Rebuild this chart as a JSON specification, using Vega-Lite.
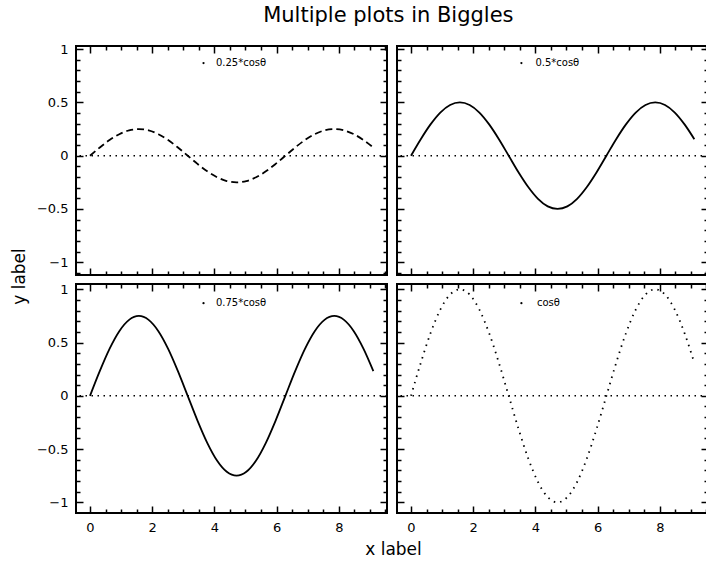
{
  "$schema": "https://vega.github.io/schema/vega-lite/v6.json",
  "background": "white",
  "padding": {"left": 9, "top": 5, "right": 0, "bottom": 5},
  "title": {"text": "Multiple plots in Biggles", "font": "DejaVu Sans", "fontSize": 21, "fontWeight": "normal", "color": "black", "anchor": "middle", "offset": 16, "dx": 29},
  "data": {"values": [
    {"x": 0, "a": 0, "b": 0, "c": 0, "d": 0},
    {"x": 0.314, "a": 0.077, "b": 0.155, "c": 0.232, "d": 0.309},
    {"x": 0.628, "a": 0.147, "b": 0.294, "c": 0.441, "d": 0.588},
    {"x": 0.942, "a": 0.202, "b": 0.405, "c": 0.607, "d": 0.809},
    {"x": 1.257, "a": 0.238, "b": 0.476, "c": 0.713, "d": 0.951},
    {"x": 1.571, "a": 0.25, "b": 0.5, "c": 0.75, "d": 1},
    {"x": 1.885, "a": 0.238, "b": 0.476, "c": 0.713, "d": 0.951},
    {"x": 2.199, "a": 0.202, "b": 0.405, "c": 0.607, "d": 0.809},
    {"x": 2.513, "a": 0.147, "b": 0.294, "c": 0.441, "d": 0.588},
    {"x": 2.827, "a": 0.077, "b": 0.155, "c": 0.232, "d": 0.309},
    {"x": 3.142, "a": 0, "b": 0, "c": 0, "d": 0},
    {"x": 3.456, "a": -0.077, "b": -0.155, "c": -0.232, "d": -0.309},
    {"x": 3.770, "a": -0.147, "b": -0.294, "c": -0.441, "d": -0.588},
    {"x": 4.084, "a": -0.202, "b": -0.405, "c": -0.607, "d": -0.809},
    {"x": 4.398, "a": -0.238, "b": -0.476, "c": -0.713, "d": -0.951},
    {"x": 4.712, "a": -0.25, "b": -0.5, "c": -0.75, "d": -1},
    {"x": 5.027, "a": -0.238, "b": -0.476, "c": -0.713, "d": -0.951},
    {"x": 5.341, "a": -0.202, "b": -0.405, "c": -0.607, "d": -0.809},
    {"x": 5.655, "a": -0.147, "b": -0.294, "c": -0.441, "d": -0.588},
    {"x": 5.969, "a": -0.077, "b": -0.155, "c": -0.232, "d": -0.309},
    {"x": 6.283, "a": 0, "b": 0, "c": 0, "d": 0},
    {"x": 6.597, "a": 0.077, "b": 0.155, "c": 0.232, "d": 0.309},
    {"x": 6.912, "a": 0.147, "b": 0.294, "c": 0.441, "d": 0.588},
    {"x": 7.226, "a": 0.202, "b": 0.405, "c": 0.607, "d": 0.809},
    {"x": 7.540, "a": 0.238, "b": 0.476, "c": 0.713, "d": 0.951},
    {"x": 7.854, "a": 0.25, "b": 0.5, "c": 0.75, "d": 1},
    {"x": 8.168, "a": 0.238, "b": 0.476, "c": 0.713, "d": 0.951},
    {"x": 8.482, "a": 0.202, "b": 0.405, "c": 0.607, "d": 0.809},
    {"x": 8.796, "a": 0.147, "b": 0.294, "c": 0.441, "d": 0.588},
    {"x": 9.111, "a": 0.077, "b": 0.155, "c": 0.232, "d": 0.309}
  ]},
  "columns": 2,
  "spacing": {"row": 9, "column": 10},
  "bounds": "flush",
  "concat": [
    {
      "width": 311, "height": 229,
      "layer": [
        {"mark": {"type": "line", "color": "black", "strokeWidth": 1.8, "strokeDash": [7, 4], "interpolate": "monotone"},
         "encoding": {
           "x": {"field": "x", "type": "quantitative", "scale": {"domain": [-0.45, 9.55], "nice": false, "zero": false},
                 "axis": {"orient": "bottom", "values": [0,0.5,1,1.5,2,2.5,3,3.5,4,4.5,5,5.5,6,6.5,7,7.5,8,8.5,9,9.5], "tickSize": {"condition": {"test": "datum.value % 2 === 0", "value": -7}, "value": -4}, "labels": false, "title": null}},
           "y": {"field": "a", "type": "quantitative", "scale": {"domain": [-1.12, 1.03], "nice": false, "zero": false},
                 "axis": {"orient": "left", "values": [-1.1,-1,-0.9,-0.8,-0.7,-0.6,-0.5,-0.4,-0.3,-0.2,-0.1,0,0.1,0.2,0.3,0.4,0.5,0.6,0.7,0.8,0.9,1], "tickSize": {"condition": {"test": "abs(round(datum.value*10)) % 5 === 0", "value": -7}, "value": -4}, "labelExpr": "abs(round(datum.value*10)) % 5 === 0 ? datum.label : ''", "format": "~g", "labelPadding": 15, "title": "y label", "titleX": -57, "titleY": 230, "titleAngle": 270, "titleBaseline": "middle", "titleAlign": "center"}}
         }},
        {"data": {"values": [{"label": "0.25*cosθ"}]},
         "mark": {"type": "rule", "color": "black", "strokeWidth": 1.5, "strokeDash": [1.5, 4.5]},
         "encoding": {"y": {"datum": 0, "type": "quantitative", "axis": null}}},
        {"data": {"values": [{"label": "0.25*cosθ"}]},
         "mark": {"type": "circle", "color": "black", "size": 5, "opacity": 1},
         "encoding": {
           "x": {"datum": 3.65, "type": "quantitative", "axis": {"orient": "top", "values": [0,0.5,1,1.5,2,2.5,3,3.5,4,4.5,5,5.5,6,6.5,7,7.5,8,8.5,9,9.5], "tickSize": {"condition": {"test": "datum.value % 2 === 0", "value": -7}, "value": -4}, "labels": false, "title": null}},
           "y": {"datum": 0.87, "type": "quantitative", "axis": {"orient": "right", "values": [-1.1,-1,-0.9,-0.8,-0.7,-0.6,-0.5,-0.4,-0.3,-0.2,-0.1,0,0.1,0.2,0.3,0.4,0.5,0.6,0.7,0.8,0.9,1], "tickSize": {"condition": {"test": "abs(round(datum.value*10)) % 5 === 0", "value": -7}, "value": -4}, "labels": false, "title": null}}
         }},
        {"data": {"values": [{"label": "0.25*cosθ"}]},
         "mark": {"type": "text", "align": "left", "baseline": "middle", "font": "DejaVu Sans", "fontSize": 10, "color": "black"},
         "encoding": {
           "x": {"datum": 4.05, "type": "quantitative", "axis": null},
           "y": {"datum": 0.87, "type": "quantitative", "axis": null},
           "text": {"field": "label"}
         }}
      ],
      "resolve": {"axis": {"x": "independent", "y": "independent"}}
    },
    {
      "width": 311, "height": 229,
      "layer": [
        {"mark": {"type": "line", "color": "black", "strokeWidth": 1.8, "interpolate": "monotone"},
         "encoding": {
           "x": {"field": "x", "type": "quantitative", "scale": {"domain": [-0.45, 9.55], "nice": false, "zero": false},
                 "axis": {"orient": "bottom", "values": [0,0.5,1,1.5,2,2.5,3,3.5,4,4.5,5,5.5,6,6.5,7,7.5,8,8.5,9,9.5], "tickSize": {"condition": {"test": "datum.value % 2 === 0", "value": -7}, "value": -4}, "labels": false, "title": null}},
           "y": {"field": "b", "type": "quantitative", "scale": {"domain": [-1.12, 1.03], "nice": false, "zero": false},
                 "axis": {"orient": "left", "values": [-1.1,-1,-0.9,-0.8,-0.7,-0.6,-0.5,-0.4,-0.3,-0.2,-0.1,0,0.1,0.2,0.3,0.4,0.5,0.6,0.7,0.8,0.9,1], "tickSize": {"condition": {"test": "abs(round(datum.value*10)) % 5 === 0", "value": -7}, "value": -4}, "labels": false, "title": null}}
         }},
        {"data": {"values": [{"label": "0.5*cosθ"}]},
         "mark": {"type": "rule", "color": "black", "strokeWidth": 1.5, "strokeDash": [1.5, 4.5]},
         "encoding": {"y": {"datum": 0, "type": "quantitative", "axis": null}}},
        {"data": {"values": [{"label": "0.5*cosθ"}]},
         "mark": {"type": "circle", "color": "black", "size": 5, "opacity": 1},
         "encoding": {
           "x": {"datum": 3.55, "type": "quantitative", "axis": {"orient": "top", "values": [0,0.5,1,1.5,2,2.5,3,3.5,4,4.5,5,5.5,6,6.5,7,7.5,8,8.5,9,9.5], "tickSize": {"condition": {"test": "datum.value % 2 === 0", "value": -7}, "value": -4}, "labels": false, "title": null}},
           "y": {"datum": 0.87, "type": "quantitative", "axis": {"orient": "right", "values": [-1.1,-1,-0.9,-0.8,-0.7,-0.6,-0.5,-0.4,-0.3,-0.2,-0.1,0,0.1,0.2,0.3,0.4,0.5,0.6,0.7,0.8,0.9,1], "tickSize": {"condition": {"test": "abs(round(datum.value*10)) % 5 === 0", "value": -7}, "value": -4}, "labels": false, "title": null}}
         }},
        {"data": {"values": [{"label": "0.5*cosθ"}]},
         "mark": {"type": "text", "align": "left", "baseline": "middle", "font": "DejaVu Sans", "fontSize": 10, "color": "black"},
         "encoding": {
           "x": {"datum": 4.0, "type": "quantitative", "axis": null},
           "y": {"datum": 0.87, "type": "quantitative", "axis": null},
           "text": {"field": "label"}
         }}
      ],
      "resolve": {"axis": {"x": "independent", "y": "independent"}}
    },
    {
      "width": 311, "height": 229,
      "layer": [
        {"mark": {"type": "line", "color": "black", "strokeWidth": 1.8, "interpolate": "monotone"},
         "encoding": {
           "x": {"field": "x", "type": "quantitative", "scale": {"domain": [-0.45, 9.55], "nice": false, "zero": false},
                 "axis": {"orient": "bottom", "values": [0,0.5,1,1.5,2,2.5,3,3.5,4,4.5,5,5.5,6,6.5,7,7.5,8,8.5,9,9.5], "tickSize": {"condition": {"test": "datum.value % 2 === 0", "value": -7}, "value": -4}, "labelExpr": "datum.value % 2 === 0 ? datum.label : ''", "format": "~g", "labelPadding": 15, "labelOverlap": false, "labelFlush": false, "title": "x label", "titleX": 317, "titleY": 41, "titleBaseline": "alphabetic", "titleAlign": "center"}},
           "y": {"field": "c", "type": "quantitative", "scale": {"domain": [-1.1, 1.05], "nice": false, "zero": false},
                 "axis": {"orient": "left", "values": [-1,-0.9,-0.8,-0.7,-0.6,-0.5,-0.4,-0.3,-0.2,-0.1,0,0.1,0.2,0.3,0.4,0.5,0.6,0.7,0.8,0.9,1], "tickSize": {"condition": {"test": "abs(round(datum.value*10)) % 5 === 0", "value": -7}, "value": -4}, "labelExpr": "abs(round(datum.value*10)) % 5 === 0 ? datum.label : ''", "format": "~g", "labelPadding": 15, "title": null}}
         }},
        {"data": {"values": [{"label": "0.75*cosθ"}]},
         "mark": {"type": "rule", "color": "black", "strokeWidth": 1.5, "strokeDash": [1.5, 4.5]},
         "encoding": {"y": {"datum": 0, "type": "quantitative", "axis": null}}},
        {"data": {"values": [{"label": "0.75*cosθ"}]},
         "mark": {"type": "circle", "color": "black", "size": 5, "opacity": 1},
         "encoding": {
           "x": {"datum": 3.65, "type": "quantitative", "axis": {"orient": "top", "values": [0,0.5,1,1.5,2,2.5,3,3.5,4,4.5,5,5.5,6,6.5,7,7.5,8,8.5,9,9.5], "tickSize": {"condition": {"test": "datum.value % 2 === 0", "value": -7}, "value": -4}, "labels": false, "title": null}},
           "y": {"datum": 0.87, "type": "quantitative", "axis": {"orient": "right", "values": [-1,-0.9,-0.8,-0.7,-0.6,-0.5,-0.4,-0.3,-0.2,-0.1,0,0.1,0.2,0.3,0.4,0.5,0.6,0.7,0.8,0.9,1], "tickSize": {"condition": {"test": "abs(round(datum.value*10)) % 5 === 0", "value": -7}, "value": -4}, "labels": false, "title": null}}
         }},
        {"data": {"values": [{"label": "0.75*cosθ"}]},
         "mark": {"type": "text", "align": "left", "baseline": "middle", "font": "DejaVu Sans", "fontSize": 10, "color": "black"},
         "encoding": {
           "x": {"datum": 4.05, "type": "quantitative", "axis": null},
           "y": {"datum": 0.87, "type": "quantitative", "axis": null},
           "text": {"field": "label"}
         }}
      ],
      "resolve": {"axis": {"x": "independent", "y": "independent"}}
    },
    {
      "width": 311, "height": 229,
      "layer": [
        {"mark": {"type": "line", "color": "black", "strokeWidth": 1.8, "strokeDash": [1.5, 5], "interpolate": "monotone"},
         "encoding": {
           "x": {"field": "x", "type": "quantitative", "scale": {"domain": [-0.45, 9.55], "nice": false, "zero": false},
                 "axis": {"orient": "bottom", "values": [0,0.5,1,1.5,2,2.5,3,3.5,4,4.5,5,5.5,6,6.5,7,7.5,8,8.5,9,9.5], "tickSize": {"condition": {"test": "datum.value % 2 === 0", "value": -7}, "value": -4}, "labelExpr": "datum.value % 2 === 0 ? datum.label : ''", "format": "~g", "labelPadding": 15, "labelOverlap": false, "labelFlush": false, "title": null}},
           "y": {"field": "d", "type": "quantitative", "scale": {"domain": [-1.1, 1.05], "nice": false, "zero": false},
                 "axis": {"orient": "left", "values": [-1,-0.9,-0.8,-0.7,-0.6,-0.5,-0.4,-0.3,-0.2,-0.1,0,0.1,0.2,0.3,0.4,0.5,0.6,0.7,0.8,0.9,1], "tickSize": {"condition": {"test": "abs(round(datum.value*10)) % 5 === 0", "value": -7}, "value": -4}, "labels": false, "title": null}}
         }},
        {"data": {"values": [{"label": "cosθ"}]},
         "mark": {"type": "rule", "color": "black", "strokeWidth": 1.5, "strokeDash": [1.5, 4.5]},
         "encoding": {"y": {"datum": 0, "type": "quantitative", "axis": null}}},
        {"data": {"values": [{"label": "cosθ"}]},
         "mark": {"type": "circle", "color": "black", "size": 5, "opacity": 1},
         "encoding": {
           "x": {"datum": 3.55, "type": "quantitative", "axis": {"orient": "top", "values": [0,0.5,1,1.5,2,2.5,3,3.5,4,4.5,5,5.5,6,6.5,7,7.5,8,8.5,9,9.5], "tickSize": {"condition": {"test": "datum.value % 2 === 0", "value": -7}, "value": -4}, "labels": false, "title": null}},
           "y": {"datum": 0.87, "type": "quantitative", "axis": {"orient": "right", "values": [-1,-0.9,-0.8,-0.7,-0.6,-0.5,-0.4,-0.3,-0.2,-0.1,0,0.1,0.2,0.3,0.4,0.5,0.6,0.7,0.8,0.9,1], "tickSize": {"condition": {"test": "abs(round(datum.value*10)) % 5 === 0", "value": -7}, "value": -4}, "labels": false, "title": null}}
         }},
        {"data": {"values": [{"label": "cosθ"}]},
         "mark": {"type": "text", "align": "left", "baseline": "middle", "font": "DejaVu Sans", "fontSize": 10, "color": "black"},
         "encoding": {
           "x": {"datum": 4.05, "type": "quantitative", "axis": null},
           "y": {"datum": 0.87, "type": "quantitative", "axis": null},
           "text": {"field": "label"}
         }}
      ],
      "resolve": {"axis": {"x": "independent", "y": "independent"}}
    }
  ],
  "config": {
    "view": {"stroke": "black", "strokeWidth": 2},
    "axis": {"domain": false, "grid": false, "tickColor": "black", "tickWidth": 1.5, "labelColor": "black", "labelFont": "DejaVu Sans", "labelFontSize": 13, "titleFont": "DejaVu Sans", "titleFontSize": 17, "titleFontWeight": "normal", "titleColor": "black"}
  }
}
